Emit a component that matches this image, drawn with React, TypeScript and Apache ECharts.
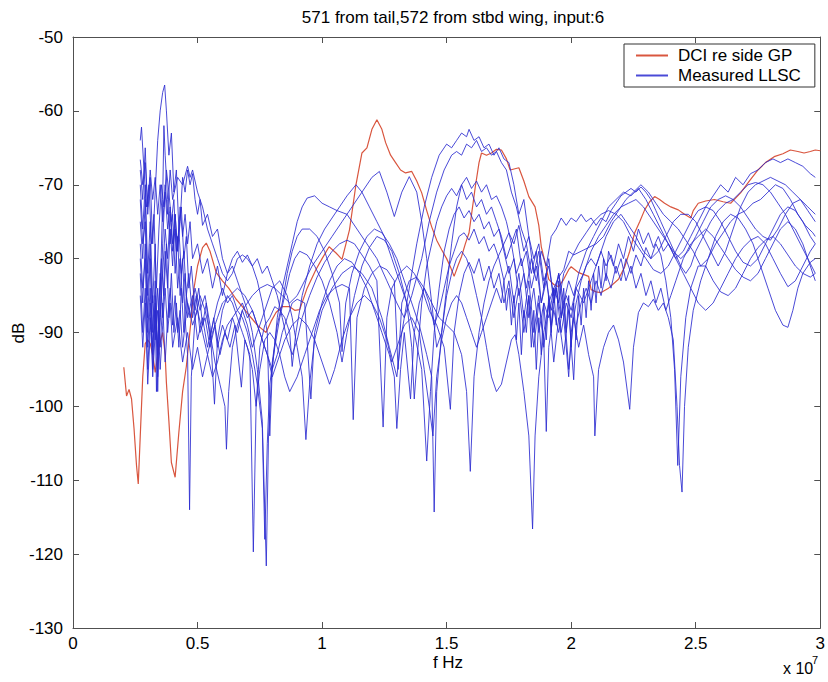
import React, { useEffect, useRef } from 'react';
import * as echarts from 'echarts';

type Pt = [number, number];

// x in units of 1e7 Hz, y in dB
const dci: Pt[] = [
  [0.204, -94.7], [0.215, -98.6], [0.225, -97.7], [0.235, -99], [0.245, -103], [0.255, -108], [0.262, -110.5],
  [0.27, -104], [0.28, -96], [0.29, -91.5], [0.30, -91], [0.31, -91.5], [0.32, -93], [0.33, -95.4], [0.345, -92],
  [0.36, -90], [0.37, -93], [0.375, -96.8], [0.385, -102], [0.395, -107.6], [0.41, -109.6], [0.425, -103.5],
  [0.44, -98], [0.455, -94.6], [0.475, -88], [0.485, -84.2], [0.50, -81], [0.52, -78.5], [0.535, -77.9], [0.55, -79],
  [0.575, -81.9], [0.60, -83], [0.625, -84], [0.655, -85.5], [0.68, -86.5], [0.71, -87.8], [0.74, -89], [0.775, -90],
  [0.795, -88.5], [0.815, -87.3], [0.84, -86.5], [0.87, -86.5], [0.89, -87], [0.91, -86.9], [0.94, -84], [0.975, -81.5],
  [1.0, -80], [1.028, -78.4], [1.055, -79.2], [1.08, -80.1], [1.11, -76.1], [1.135, -70.2], [1.16, -65.7], [1.18, -65],
  [1.20, -62.5], [1.22, -61.2], [1.24, -62.5], [1.255, -64.3], [1.275, -66], [1.295, -67], [1.315, -68], [1.335, -68.4],
  [1.36, -68.2], [1.38, -69.5], [1.40, -71.1], [1.42, -73.5], [1.44, -75.7], [1.46, -77.5], [1.48, -78.8], [1.50, -80],
  [1.515, -81.1], [1.53, -82.4], [1.545, -81], [1.56, -79.7], [1.575, -78], [1.59, -76.5], [1.60, -74], [1.615, -70.3],
  [1.63, -67], [1.64, -65.7], [1.66, -66], [1.68, -65.7], [1.70, -65.2], [1.72, -65.3], [1.74, -66.5], [1.755, -68],
  [1.79, -67.7], [1.81, -69.5], [1.83, -71.6], [1.855, -73], [1.87, -75.5], [1.88, -78.4], [1.895, -80.5], [1.91, -82.8],
  [1.93, -83.5], [1.95, -83.8], [1.97, -82.8], [1.99, -81.5], [2.0, -81.1], [2.03, -81.9], [2.07, -82.4], [2.08, -84.2],
  [2.10, -84.5], [2.12, -84.6], [2.15, -84], [2.19, -82.8], [2.215, -81.1], [2.235, -79], [2.255, -76.5], [2.275, -75],
  [2.295, -73.4], [2.315, -72.3], [2.335, -71.6], [2.355, -72], [2.375, -72.5], [2.40, -73], [2.43, -73.4], [2.455, -74],
  [2.48, -74.5], [2.49, -73.5], [2.51, -72.5], [2.54, -72.2], [2.575, -72], [2.61, -72.3], [2.64, -72.5], [2.66, -71.8],
  [2.68, -71.1], [2.715, -69.5], [2.75, -68], [2.78, -67], [2.815, -66.2], [2.85, -65.8], [2.88, -65.3], [2.91, -65.5],
  [2.935, -65.7], [2.96, -65.5], [2.98, -65.3], [3.0, -65.4],
];

const llsc1: Pt[] = [
  [0.27, -68], [0.28, -72], [0.29, -65], [0.30, -74], [0.31, -69], [0.32, -78], [0.33, -71], [0.34, -64], [0.35, -60],
  [0.36, -57.5], [0.368, -56.5], [0.375, -60], [0.385, -66], [0.395, -63], [0.405, -71], [0.415, -68], [0.425, -76],
  [0.435, -73], [0.445, -80], [0.455, -77], [0.465, -84], [0.475, -81], [0.49, -87], [0.505, -84], [0.52, -89],
  [0.535, -86], [0.55, -91], [0.565, -88], [0.58, -92], [0.60, -89], [0.62, -91], [0.64, -88], [0.66, -90], [0.68, -87],
  [0.70, -89], [0.72, -92], [0.74, -90], [0.76, -88], [0.78, -86], [0.80, -84], [0.83, -83], [0.86, -85], [0.88, -88],
  [0.90, -92], [0.92, -96], [0.935, -104.5], [0.95, -97], [0.97, -91], [1.0, -87], [1.04, -84], [1.08, -82], [1.12, -81],
  [1.16, -82], [1.2, -84], [1.24, -88], [1.27, -92], [1.30, -96], [1.32, -90], [1.35, -84], [1.38, -78], [1.41, -73],
  [1.44, -69], [1.47, -66], [1.50, -64.5], [1.52, -65], [1.54, -64], [1.56, -63], [1.58, -63.5], [1.59, -62.5],
  [1.61, -64], [1.63, -63.5], [1.65, -65], [1.67, -64.5], [1.69, -66], [1.71, -65], [1.73, -66.5], [1.75, -67],
  [1.77, -70], [1.79, -74], [1.81, -72], [1.83, -77], [1.85, -80], [1.87, -78], [1.89, -83], [1.91, -81], [1.93, -85],
  [1.95, -82], [1.97, -86], [1.99, -83], [2.01, -85], [2.03, -82], [2.06, -79], [2.09, -77], [2.12, -75], [2.15, -73],
  [2.18, -72], [2.21, -71], [2.24, -71.5], [2.27, -70.5], [2.30, -72], [2.33, -74], [2.36, -76], [2.39, -78], [2.42, -80],
  [2.45, -79], [2.48, -77], [2.51, -75], [2.54, -73], [2.57, -71.5], [2.60, -70], [2.63, -71], [2.66, -69], [2.69, -70],
  [2.72, -68.5], [2.75, -68], [2.78, -67], [2.81, -66.5], [2.84, -67], [2.87, -66.5], [2.90, -67], [2.93, -67.5],
  [2.96, -68.5], [2.98, -69],
];

const llsc2: Pt[] = [
  [0.27, -75], [0.28, -80], [0.29, -72], [0.30, -85], [0.31, -78], [0.32, -90], [0.33, -83], [0.34, -96], [0.35, -88],
  [0.36, -78], [0.37, -70], [0.38, -74], [0.39, -68], [0.40, -72], [0.42, -69], [0.44, -70], [0.46, -67.5], [0.47, -69],
  [0.48, -68], [0.50, -71], [0.52, -73], [0.54, -76], [0.56, -78], [0.58, -80], [0.60, -82], [0.62, -83], [0.64, -82],
  [0.66, -80], [0.68, -79.5], [0.70, -80], [0.72, -81], [0.74, -83], [0.76, -86], [0.78, -90], [0.79, -104], [0.80, -95],
  [0.82, -88], [0.84, -84], [0.86, -81], [0.88, -78], [0.90, -75], [0.92, -73], [0.94, -71.8], [0.97, -71.5], [1.0, -72.5],
  [1.03, -73], [1.06, -73.5], [1.10, -74], [1.14, -76], [1.18, -78], [1.22, -80], [1.26, -83], [1.30, -86], [1.33, -88],
  [1.36, -85], [1.40, -80], [1.43, -75], [1.46, -71], [1.49, -68], [1.52, -66], [1.54, -65.5], [1.56, -66], [1.58, -64.5],
  [1.60, -65], [1.62, -64], [1.64, -65.5], [1.66, -65], [1.68, -66], [1.70, -65.5], [1.72, -67], [1.74, -68], [1.76, -71],
  [1.78, -73], [1.80, -76], [1.82, -78], [1.84, -82], [1.86, -79], [1.88, -86], [1.90, -82], [1.92, -89], [1.94, -84],
  [1.96, -90], [1.98, -86], [2.0, -88], [2.02, -84], [2.05, -86], [2.08, -83], [2.11, -80], [2.14, -77], [2.17, -75],
  [2.20, -74], [2.23, -75.5], [2.26, -77], [2.29, -79], [2.32, -80], [2.35, -79], [2.38, -77], [2.41, -75], [2.44, -74],
  [2.47, -74], [2.50, -75], [2.53, -77], [2.56, -79], [2.59, -81], [2.62, -79], [2.65, -76], [2.68, -73], [2.71, -71],
  [2.74, -70], [2.77, -69.5], [2.80, -69], [2.83, -69.5], [2.86, -70], [2.89, -71], [2.92, -72], [2.95, -73.5], [2.98, -75],
];

const llsc3: Pt[] = [
  [0.27, -70], [0.28, -76], [0.29, -70], [0.30, -82], [0.31, -75], [0.32, -86], [0.33, -78], [0.34, -98], [0.35, -85],
  [0.36, -72], [0.365, -62], [0.37, -66], [0.38, -72], [0.39, -78], [0.40, -74], [0.41, -82], [0.42, -77], [0.43, -85],
  [0.44, -80], [0.45, -88], [0.46, -93], [0.468, -114], [0.475, -96], [0.49, -88], [0.51, -85], [0.53, -87], [0.55, -90],
  [0.57, -94], [0.59, -97], [0.61, -100], [0.616, -105.8], [0.625, -98], [0.64, -92], [0.66, -89], [0.68, -87], [0.70, -86],
  [0.72, -85], [0.75, -84], [0.78, -83.5], [0.81, -84], [0.84, -85], [0.87, -86], [0.90, -85], [0.93, -83], [0.96, -81],
  [1.0, -79], [1.04, -77], [1.08, -75], [1.12, -73], [1.16, -71], [1.20, -69], [1.23, -68.2], [1.26, -71], [1.29, -74.3],
  [1.32, -71], [1.35, -68.9], [1.38, -71], [1.40, -75], [1.42, -80], [1.44, -86], [1.46, -92], [1.48, -90], [1.50, -84],
  [1.52, -78], [1.54, -73], [1.56, -70], [1.58, -69], [1.60, -70.5], [1.62, -69.5], [1.64, -71], [1.66, -70], [1.68, -72],
  [1.70, -71.5], [1.72, -73], [1.74, -75], [1.76, -78], [1.78, -76], [1.80, -81], [1.82, -79], [1.84, -84], [1.86, -81],
  [1.88, -86], [1.90, -83], [1.92, -87], [1.94, -84], [1.96, -88], [1.98, -85], [2.00, -87], [2.02, -84], [2.05, -82],
  [2.08, -79], [2.11, -77], [2.14, -75.5], [2.17, -74], [2.20, -73], [2.23, -72.5], [2.26, -72], [2.29, -73], [2.32, -74.5],
  [2.35, -76], [2.38, -77.5], [2.41, -79], [2.44, -80], [2.47, -79], [2.50, -77], [2.53, -75], [2.56, -73], [2.59, -72],
  [2.62, -71.5], [2.65, -72], [2.68, -73], [2.71, -74.5], [2.74, -76], [2.77, -77], [2.80, -77.5], [2.83, -76], [2.86, -74],
  [2.89, -72.5], [2.92, -72], [2.95, -73], [2.98, -74],
];

const llsc4: Pt[] = [
  [0.27, -64], [0.275, -62.2], [0.285, -68], [0.295, -73], [0.305, -70], [0.315, -78], [0.325, -74], [0.335, -84],
  [0.345, -76], [0.355, -70], [0.365, -73], [0.375, -68], [0.385, -71], [0.395, -75], [0.405, -72], [0.415, -79],
  [0.425, -76], [0.435, -82], [0.445, -79], [0.455, -85], [0.465, -82], [0.48, -88], [0.495, -85], [0.51, -90], [0.53, -88],
  [0.55, -92], [0.57, -89], [0.59, -93], [0.61, -90], [0.63, -92], [0.65, -89], [0.676, -97.4], [0.69, -91], [0.71, -93],
  [0.724, -119.7], [0.735, -100], [0.75, -92], [0.77, -89], [0.79, -88], [0.81, -86.5], [0.83, -87], [0.85, -88], [0.87, -90],
  [0.88, -94.6], [0.895, -90], [0.92, -85], [0.95, -81], [0.98, -78], [1.01, -76], [1.04, -74.5], [1.07, -73], [1.10, -71.5],
  [1.136, -70], [1.16, -71], [1.19, -73], [1.22, -75], [1.25, -77], [1.28, -80], [1.31, -83], [1.34, -86], [1.37, -90],
  [1.40, -95], [1.42, -107.4], [1.435, -98], [1.45, -90], [1.47, -84], [1.49, -79], [1.51, -76], [1.53, -74], [1.55, -73],
  [1.57, -74.5], [1.59, -73.5], [1.61, -75], [1.63, -74], [1.65, -76], [1.67, -75], [1.69, -77], [1.71, -76], [1.73, -79],
  [1.75, -82], [1.77, -80], [1.79, -85], [1.81, -82], [1.83, -88], [1.85, -84], [1.87, -90], [1.89, -86], [1.91, -88],
  [1.93, -84], [1.95, -86], [1.97, -82], [2.00, -80], [2.03, -78], [2.06, -76.5], [2.09, -75], [2.12, -74], [2.15, -73.5],
  [2.18, -74], [2.21, -75], [2.24, -77], [2.27, -78.5], [2.30, -80], [2.33, -81.5], [2.36, -82], [2.39, -81], [2.42, -79],
  [2.45, -77], [2.48, -75], [2.51, -73.5], [2.54, -73], [2.57, -73.5], [2.60, -75], [2.63, -77], [2.66, -79], [2.69, -80.5],
  [2.72, -81], [2.75, -80], [2.78, -78], [2.81, -76], [2.84, -74], [2.87, -73], [2.90, -73.5], [2.93, -75], [2.96, -77],
  [2.98, -78],
];

const llsc5: Pt[] = [
  [0.27, -66.6], [0.28, -70], [0.29, -67], [0.30, -73], [0.31, -68], [0.32, -72], [0.33, -69], [0.34, -74], [0.35, -70],
  [0.36, -75], [0.37, -71], [0.38, -76], [0.39, -73], [0.40, -78], [0.41, -74], [0.42, -79], [0.43, -75], [0.44, -69],
  [0.45, -71], [0.46, -68], [0.47, -70], [0.48, -68.5], [0.49, -72], [0.50, -74], [0.51, -72], [0.52, -75.5], [0.54, -74],
  [0.56, -77], [0.58, -76], [0.60, -80], [0.62, -82], [0.64, -81], [0.66, -83], [0.68, -85], [0.70, -87], [0.72, -90],
  [0.74, -95], [0.76, -102], [0.776, -121.6], [0.785, -104], [0.80, -94], [0.82, -89], [0.84, -86], [0.86, -82], [0.88, -79],
  [0.90, -77], [0.92, -76], [0.95, -76], [0.98, -77], [1.01, -79], [1.04, -82], [1.07, -86], [1.08, -92.6], [1.095, -86],
  [1.12, -82], [1.15, -79], [1.18, -77], [1.21, -76], [1.24, -76.5], [1.27, -78], [1.30, -80], [1.33, -83], [1.36, -86],
  [1.39, -89], [1.42, -93], [1.44, -96], [1.45, -114.3], [1.46, -98], [1.48, -90], [1.50, -85], [1.52, -82], [1.54, -80],
  [1.56, -79], [1.58, -80], [1.60, -82], [1.62, -85], [1.64, -88], [1.66, -92], [1.68, -96], [1.70, -98], [1.72, -97],
  [1.74, -94], [1.76, -91], [1.775, -90.3], [1.79, -93], [1.81, -98], [1.83, -104], [1.845, -116.6], [1.855, -104],
  [1.87, -96], [1.89, -90], [1.91, -86], [1.93, -84], [1.95, -82.5], [1.97, -81.5], [1.99, -79], [2.01, -79.5], [2.04, -79],
  [2.07, -78.5], [2.10, -78], [2.13, -77], [2.16, -75], [2.19, -73.5], [2.22, -72], [2.25, -71], [2.28, -70], [2.31, -71],
  [2.34, -72.5], [2.37, -74], [2.40, -75], [2.43, -76], [2.46, -77.5], [2.49, -79], [2.52, -81], [2.55, -80], [2.58, -77],
  [2.61, -75], [2.64, -74], [2.67, -74.5], [2.70, -76], [2.73, -78], [2.76, -81], [2.79, -84], [2.82, -87], [2.85, -89],
  [2.87, -89.3], [2.89, -87], [2.91, -84], [2.93, -82], [2.96, -80.5], [2.98, -80],
];

const llsc6: Pt[] = [
  [0.27, -80], [0.28, -86], [0.29, -78], [0.30, -90], [0.31, -84], [0.32, -95], [0.33, -87], [0.34, -92], [0.35, -82],
  [0.36, -88], [0.37, -79], [0.38, -84], [0.39, -76], [0.40, -81], [0.41, -74], [0.42, -79], [0.43, -73], [0.44, -77],
  [0.45, -74], [0.46, -78], [0.47, -75], [0.48, -80], [0.50, -78], [0.52, -82], [0.54, -80], [0.56, -84], [0.58, -81],
  [0.60, -85], [0.62, -82], [0.64, -80], [0.66, -79], [0.68, -80.5], [0.70, -79.5], [0.72, -81], [0.74, -80], [0.76, -82],
  [0.78, -81], [0.80, -83], [0.82, -85], [0.84, -88], [0.86, -91], [0.88, -93], [0.90, -91], [0.92, -88], [0.95, -85],
  [0.98, -82.5], [1.01, -80.5], [1.04, -79], [1.07, -78], [1.10, -77.5], [1.13, -78], [1.16, -79.5], [1.19, -81], [1.22, -83],
  [1.245, -102.8], [1.26, -88], [1.28, -84], [1.31, -82], [1.34, -81], [1.37, -82], [1.40, -84], [1.43, -87], [1.46, -89],
  [1.49, -92], [1.515, -100.4], [1.53, -90], [1.55, -85], [1.57, -82], [1.59, -80.5], [1.61, -82], [1.63, -80], [1.65, -83],
  [1.67, -81], [1.69, -84], [1.71, -82], [1.73, -86], [1.75, -83], [1.77, -88], [1.79, -84], [1.81, -90], [1.83, -85],
  [1.85, -92], [1.87, -86], [1.89, -91], [1.90, -103.4], [1.91, -92], [1.93, -87], [1.95, -90], [1.97, -86], [1.99, -95],
  [2.01, -88], [2.03, -92], [2.05, -89], [2.07, -93], [2.09, -96], [2.095, -104], [2.11, -95], [2.13, -92], [2.15, -90],
  [2.17, -89], [2.19, -91], [2.21, -94], [2.235, -100.4], [2.25, -92], [2.27, -87.3], [2.29, -86], [2.31, -86.5],
  [2.33, -85.5], [2.35, -87], [2.37, -86], [2.39, -88], [2.41, -91], [2.425, -100], [2.435, -108], [2.445, -111.6],
  [2.455, -100], [2.47, -92], [2.49, -87], [2.52, -83], [2.55, -80], [2.58, -78], [2.61, -76.5], [2.64, -75], [2.67, -74],
  [2.70, -73.5], [2.73, -72.5], [2.76, -72], [2.79, -71], [2.82, -70], [2.85, -70.5], [2.88, -72], [2.91, -74], [2.94, -75.5],
  [2.97, -76.5], [2.98, -77],
];

const llsc7: Pt[] = [
  [0.27, -72], [0.28, -78], [0.29, -75], [0.30, -88], [0.31, -80], [0.32, -93], [0.33, -85], [0.335, -98], [0.345, -86],
  [0.355, -80], [0.365, -85], [0.375, -78], [0.385, -88], [0.395, -82], [0.405, -90], [0.415, -86], [0.425, -92], [0.435, -84],
  [0.445, -90], [0.455, -85], [0.47, -88], [0.49, -84], [0.51, -87], [0.53, -85], [0.55, -89], [0.568, -99.7], [0.58, -91],
  [0.60, -87], [0.62, -85], [0.64, -86], [0.66, -88], [0.68, -90], [0.70, -92], [0.72, -95], [0.735, -100], [0.75, -95],
  [0.77, -91], [0.79, -90], [0.81, -91], [0.83, -93], [0.85, -96], [0.87, -98], [0.90, -96], [0.93, -93], [0.96, -90],
  [0.99, -87], [1.02, -85], [1.05, -84], [1.08, -83.5], [1.11, -84], [1.125, -101.8], [1.14, -88], [1.17, -84], [1.20, -82],
  [1.23, -81], [1.26, -81.5], [1.29, -83], [1.305, -95], [1.32, -86], [1.35, -83], [1.38, -82.5], [1.41, -84], [1.44, -86],
  [1.47, -88], [1.50, -89], [1.53, -90], [1.56, -93], [1.58, -98], [1.595, -108.8], [1.61, -96], [1.63, -90], [1.65, -86],
  [1.67, -83], [1.69, -81], [1.71, -79.5], [1.73, -78], [1.75, -76.5], [1.77, -78], [1.79, -75.5], [1.81, -79], [1.83, -77],
  [1.85, -82], [1.87, -79], [1.89, -84], [1.91, -80], [1.93, -86], [1.95, -82], [1.97, -88], [1.99, -96], [2.00, -90],
  [2.02, -86], [2.04, -83], [2.06, -81], [2.08, -80], [2.10, -81], [2.12, -79], [2.14, -81], [2.16, -79.5], [2.18, -82],
  [2.20, -80], [2.22, -83], [2.24, -81], [2.26, -84], [2.28, -82], [2.30, -85], [2.32, -83], [2.34, -86], [2.36, -84],
  [2.38, -87], [2.40, -85], [2.42, -83], [2.45, -80], [2.48, -78], [2.51, -77], [2.54, -76], [2.57, -77], [2.60, -78.5],
  [2.63, -80], [2.66, -81.5], [2.69, -82.5], [2.72, -83], [2.75, -82], [2.78, -80], [2.81, -78], [2.84, -76], [2.87, -75],
  [2.90, -76], [2.93, -78], [2.96, -81], [2.98, -83],
];

const llsc8: Pt[] = [
  [0.27, -78], [0.28, -84], [0.29, -80], [0.30, -92], [0.31, -86], [0.32, -96], [0.33, -90], [0.34, -84], [0.35, -92],
  [0.36, -86], [0.37, -94], [0.38, -88], [0.39, -84], [0.40, -89], [0.41, -85], [0.42, -90], [0.43, -87], [0.44, -92],
  [0.45, -89], [0.46, -86], [0.48, -89], [0.50, -87], [0.52, -90], [0.54, -93], [0.56, -96], [0.58, -94], [0.60, -91],
  [0.62, -89], [0.64, -88], [0.66, -87], [0.68, -88], [0.70, -90], [0.72, -93], [0.74, -97], [0.76, -103], [0.77, -118],
  [0.78, -105], [0.79, -97], [0.81, -92], [0.83, -88], [0.85, -85], [0.87, -82], [0.89, -80], [0.91, -79], [0.94, -79.5],
  [0.97, -81], [1.00, -83], [1.03, -86], [1.06, -90], [1.08, -94], [1.10, -90], [1.13, -85], [1.16, -81], [1.19, -78.5],
  [1.22, -77], [1.25, -77.5], [1.28, -79], [1.31, -82], [1.34, -86], [1.36, -92], [1.37, -99], [1.385, -92], [1.40, -86],
  [1.42, -81], [1.44, -78], [1.46, -75], [1.48, -73], [1.50, -71.5], [1.52, -70.5], [1.54, -71.5], [1.56, -70], [1.58, -72],
  [1.60, -71], [1.62, -73], [1.64, -72], [1.66, -74], [1.68, -73], [1.70, -75], [1.72, -77], [1.74, -80], [1.76, -78],
  [1.78, -82], [1.80, -80], [1.82, -84], [1.84, -80], [1.86, -83], [1.88, -79], [1.90, -81], [1.92, -77], [1.94, -76],
  [1.96, -74.5], [1.98, -75.5], [2.00, -74.5], [2.02, -75], [2.04, -74], [2.06, -75], [2.08, -74.5], [2.10, -75.5],
  [2.12, -74.5], [2.14, -75], [2.16, -73.5], [2.18, -72.5], [2.20, -71.5], [2.22, -71], [2.24, -70.5], [2.26, -71],
  [2.28, -70.3], [2.30, -71], [2.32, -72], [2.34, -73.5], [2.36, -75], [2.38, -76.5], [2.40, -78], [2.42, -79.5], [2.44, -81],
  [2.46, -82], [2.48, -81], [2.50, -79], [2.53, -77], [2.56, -75], [2.59, -73.5], [2.62, -72.5], [2.65, -72], [2.68, -71],
  [2.71, -70], [2.74, -69.7], [2.77, -70], [2.80, -71], [2.83, -72.5], [2.86, -74], [2.89, -76], [2.92, -78], [2.95, -80],
  [2.98, -82],
];

const llsc9: Pt[] = [
  [0.27, -82], [0.28, -90], [0.29, -84], [0.30, -95], [0.31, -88], [0.32, -92], [0.33, -86], [0.34, -93], [0.35, -88],
  [0.36, -82], [0.37, -76], [0.38, -80], [0.39, -74], [0.40, -79], [0.41, -76], [0.42, -84], [0.43, -80], [0.44, -86],
  [0.45, -82], [0.46, -88], [0.48, -85], [0.50, -91], [0.52, -88], [0.54, -92], [0.56, -89], [0.58, -86], [0.60, -84],
  [0.62, -86], [0.64, -85], [0.66, -87], [0.68, -86], [0.70, -88], [0.72, -87], [0.74, -89], [0.76, -91], [0.78, -93],
  [0.80, -95], [0.82, -93], [0.84, -90], [0.86, -88], [0.88, -86], [0.90, -85.5], [0.93, -86], [0.955, -99], [0.97, -90],
  [1.00, -86], [1.03, -83], [1.06, -81], [1.09, -80], [1.12, -80.5], [1.15, -82], [1.18, -84], [1.21, -87], [1.24, -90],
  [1.27, -93], [1.29, -96], [1.30, -103], [1.315, -95], [1.33, -90], [1.355, -99], [1.37, -90], [1.39, -86], [1.41, -84],
  [1.43, -86], [1.45, -89], [1.47, -87], [1.49, -84], [1.51, -81], [1.53, -79], [1.55, -77], [1.57, -76.5], [1.59, -77.5],
  [1.61, -76], [1.63, -78], [1.65, -77], [1.67, -79], [1.69, -78], [1.71, -80], [1.73, -83], [1.75, -81], [1.77, -86],
  [1.79, -82], [1.81, -88], [1.83, -83], [1.85, -90], [1.87, -85], [1.89, -92], [1.91, -86], [1.93, -94], [1.95, -88],
  [1.97, -93], [1.99, -87], [2.01, -96.4], [2.02, -89], [2.04, -86], [2.06, -84], [2.08, -86], [2.10, -83], [2.12, -85],
  [2.14, -82], [2.16, -84], [2.18, -81], [2.20, -83], [2.22, -80], [2.24, -82], [2.26, -79.5], [2.28, -81], [2.30, -78.5],
  [2.32, -80], [2.34, -78], [2.36, -79.5], [2.38, -83], [2.40, -88], [2.415, -95], [2.428, -108], [2.44, -96], [2.46, -88],
  [2.48, -84], [2.51, -81], [2.54, -81], [2.57, -83], [2.60, -84.5], [2.63, -85], [2.66, -84], [2.69, -82], [2.72, -80],
  [2.75, -78.5], [2.78, -77.5], [2.81, -77], [2.84, -78], [2.87, -79.5], [2.90, -81], [2.93, -82], [2.96, -82.5], [2.98, -82],
];

const llsc10: Pt[] = [
  [0.27, -85], [0.28, -92], [0.29, -86], [0.30, -97], [0.31, -90], [0.32, -85], [0.33, -91], [0.34, -87], [0.35, -95],
  [0.36, -89], [0.37, -84], [0.38, -90], [0.39, -86], [0.40, -92], [0.42, -88], [0.44, -94], [0.46, -90], [0.48, -95],
  [0.50, -92], [0.52, -96], [0.54, -93], [0.56, -90], [0.58, -88], [0.60, -86], [0.63, -85], [0.66, -84], [0.69, -85],
  [0.72, -87], [0.75, -90], [0.78, -93], [0.80, -96], [0.82, -94], [0.85, -91], [0.88, -89], [0.91, -88], [0.94, -89],
  [0.97, -91], [1.00, -94], [1.03, -97], [1.05, -95], [1.08, -91], [1.11, -88], [1.14, -86], [1.17, -85], [1.20, -86],
  [1.23, -88], [1.26, -91], [1.28, -94], [1.30, -92], [1.33, -89], [1.36, -88], [1.39, -90], [1.41, -95], [1.43, -100],
  [1.445, -104], [1.46, -96], [1.48, -91], [1.50, -88], [1.52, -86], [1.54, -85], [1.56, -86], [1.58, -88], [1.60, -90],
  [1.62, -92], [1.64, -90], [1.66, -88], [1.68, -86], [1.70, -84], [1.72, -86], [1.73, -83], [1.74, -87], [1.75, -84],
  [1.76, -89], [1.77, -85], [1.78, -91], [1.79, -86], [1.80, -93], [1.81, -87], [1.82, -90], [1.83, -85], [1.84, -92],
  [1.85, -87], [1.86, -95], [1.87, -88], [1.88, -93], [1.89, -86], [1.90, -91], [1.91, -85], [1.92, -90], [1.93, -84],
  [1.94, -89], [1.95, -83], [1.96, -88], [1.97, -84], [1.98, -90], [1.99, -85], [2.00, -92], [2.01, -86], [2.02, -91],
  [2.03, -85], [2.04, -89], [2.05, -84], [2.06, -88], [2.07, -83], [2.08, -87], [2.09, -82], [2.10, -86], [2.11, -81],
  [2.12, -84], [2.13, -80], [2.14, -83], [2.15, -79], [2.17, -81], [2.19, -78], [2.21, -80], [2.23, -77], [2.25, -79],
  [2.27, -76], [2.29, -78], [2.31, -76.5], [2.33, -78.5], [2.35, -77], [2.37, -79], [2.39, -78], [2.42, -80], [2.45, -82],
  [2.48, -84], [2.51, -86], [2.54, -87], [2.57, -86], [2.60, -84], [2.63, -82], [2.66, -80], [2.69, -78.5], [2.72, -77.5],
  [2.75, -77], [2.78, -78], [2.81, -80], [2.84, -82], [2.87, -83.8], [2.90, -83], [2.93, -81], [2.96, -79], [2.98, -78],
];

const measured: Pt[][] = [llsc1, llsc2, llsc3, llsc4, llsc5, llsc6, llsc7, llsc8, llsc9, llsc10];

const titleText = '571 from tail,572 from stbd wing, input:6';
const redName = 'DCI re side GP';
const blueName = 'Measured LLSC';

const FONT = 'Liberation Sans, Arial, Helvetica, sans-serif';
const RED = '#d9563f';
const BLUE = '#2a2ad0';
const AXIS = '#505050';

export default function App() {
  const ref = useRef<HTMLDivElement>(null);
  useEffect(() => {
    if (!ref.current) return;
    const chart = echarts.init(ref.current, undefined, { renderer: 'svg' });
    const axisCommon = {
      axisLine: { show: true, onZero: false, lineStyle: { color: AXIS, width: 1 } },
      axisTick: { show: true, inside: true, length: 6, lineStyle: { color: AXIS } },
      splitLine: { show: false },
    };
    const series: any[] = [
      {
        name: redName, type: 'line', data: dci, symbol: 'none', showSymbol: false, color: RED,
        lineStyle: { color: RED, width: 1.2 }, itemStyle: { color: RED }, z: 2,
      },
      ...measured.map((d) => ({
        name: blueName, type: 'line', data: d, symbol: 'none', showSymbol: false, color: BLUE,
        lineStyle: { color: BLUE, width: 1, opacity: 0.85 }, itemStyle: { color: BLUE }, z: 3,
      })),
    ];
    chart.setOption({
      animation: false,
      backgroundColor: '#ffffff',
      color: [RED, BLUE],
      title: {
        text: titleText, left: 448, top: 4, textAlign: 'center',
        textStyle: { fontSize: 17, fontWeight: 'normal', color: '#000', fontFamily: FONT },
      },
      legend: {
        data: [redName, blueName],
        orient: 'vertical', left: 624, top: 44,
        padding: [3, 14, 3, 11], itemWidth: 32, itemHeight: 18, itemGap: 3,
        backgroundColor: '#fff', borderColor: '#333', borderWidth: 1, selectedMode: false,
        itemStyle: { opacity: 0 },
        textStyle: { fontSize: 17, color: '#000', fontFamily: FONT, padding: [0, 0, 0, 5] },
      },
      grid: { left: 73, right: 5, top: 37, bottom: 54, containLabel: false },
      xAxis: [
        {
          type: 'value', min: 0, max: 3, interval: 0.5, position: 'bottom', ...axisCommon,
          axisLabel: { color: '#000', fontSize: 17, margin: 7, fontFamily: FONT },
        },
        {
          type: 'value', min: 0, max: 3, interval: 0.5, position: 'top', ...axisCommon,
          axisLabel: { show: false },
        },
      ],
      yAxis: [
        {
          type: 'value', min: -130, max: -50, interval: 10, position: 'left', ...axisCommon,
          axisLabel: { color: '#000', fontSize: 17, margin: 10, fontFamily: FONT },
        },
        {
          type: 'value', min: -130, max: -50, interval: 10, position: 'right', ...axisCommon,
          axisLabel: { show: false },
        },
      ],
      graphic: [
        {
          type: 'text', x: 18, y: 333, rotation: Math.PI / 2,
          style: { text: 'dB', fontSize: 17, fill: '#000', fontFamily: FONT, align: 'center', verticalAlign: 'middle' },
        },
        {
          type: 'text', x: 448, y: 662,
          style: { text: 'f Hz', fontSize: 17, fill: '#000', fontFamily: FONT, align: 'center', verticalAlign: 'middle' },
        },
        {
          type: 'text', x: 783, y: 668,
          style: { text: 'x 10', fontSize: 16, fill: '#000', fontFamily: FONT, align: 'left', verticalAlign: 'middle' },
        },
        {
          type: 'text', x: 812, y: 660,
          style: { text: '7', fontSize: 11, fill: '#000', fontFamily: FONT, align: 'left', verticalAlign: 'middle' },
        },
      ],
      series,
    });
    return () => chart.dispose();
  }, []);
  return (
    <div
      ref={ref}
      style={{ position: 'fixed', left: 0, top: 0, width: 828, height: 682, background: '#fff' }}
    />
  );
}
